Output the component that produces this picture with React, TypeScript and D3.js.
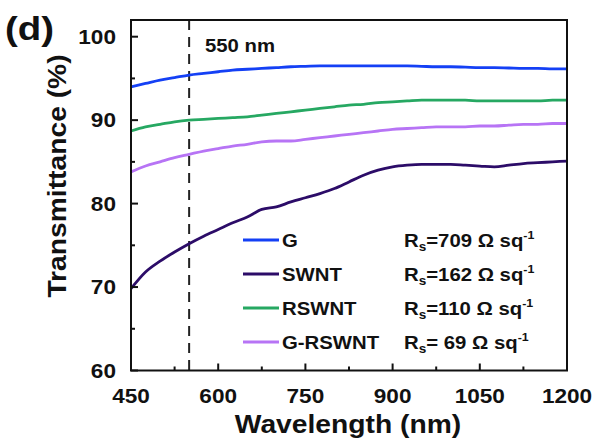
import React from "react";
import * as d3 from "d3";

const wavelengths = [450, 475, 500, 525, 550, 575, 600, 625, 650, 675, 700, 725, 750, 775, 800, 825, 850, 875, 900, 925, 950, 975, 1000, 1025, 1050, 1075, 1100, 1125, 1150, 1175, 1200];
const seriesG = [94.0, 94.4, 94.8, 95.1, 95.4, 95.6, 95.8, 96.0, 96.1, 96.2, 96.3, 96.4, 96.45, 96.5, 96.5, 96.5, 96.5, 96.5, 96.5, 96.5, 96.45, 96.4, 96.4, 96.35, 96.3, 96.3, 96.25, 96.2, 96.2, 96.15, 96.15];
const seriesSWNT = [69.8, 71.8, 73.1, 74.2, 75.2, 76.1, 76.9, 77.7, 78.4, 79.3, 79.6, 80.2, 80.7, 81.2, 81.8, 82.6, 83.4, 84.0, 84.4, 84.6, 84.7, 84.7, 84.7, 84.6, 84.5, 84.4, 84.6, 84.8, 84.9, 85.0, 85.1];
const seriesRSWNT = [88.7, 89.2, 89.5, 89.8, 90.0, 90.1, 90.2, 90.3, 90.4, 90.6, 90.8, 91.0, 91.2, 91.4, 91.6, 91.8, 91.9, 92.1, 92.2, 92.3, 92.4, 92.4, 92.4, 92.4, 92.3, 92.3, 92.3, 92.3, 92.3, 92.4, 92.4];
const seriesGRSWNT = [83.8, 84.5, 85.0, 85.5, 85.9, 86.3, 86.6, 86.9, 87.1, 87.4, 87.5, 87.5, 87.7, 87.9, 88.1, 88.3, 88.5, 88.7, 88.9, 89.0, 89.1, 89.2, 89.2, 89.2, 89.3, 89.3, 89.4, 89.5, 89.5, 89.6, 89.6];

const seriesNames = ["G", "SWNT", "RSWNT", "G-RSWNT"];
const seriesColors = ["#1440f5", "#2c0c68", "#26a862", "#b774f5"];
const resistances = ["709", "162", "110", " 69"];
const xTicks = [450, 600, 750, 900, 1050, 1200];
const xMinor = [525, 675, 825, 975, 1125];
const yTicks = [60, 70, 80, 90, 100];
const yMinor = [65, 75, 85, 95];

const FONT = "'Liberation Sans', Arial, sans-serif";
const SX = 1.13;

function T({ x, y, size, anchor = "start", children, rotate = 0 }: any) {
  return (
    <g transform={`translate(${x},${y}) rotate(${rotate}) scale(${SX},1)`}>
      <text fontFamily={FONT} fontWeight="bold" fontSize={size} textAnchor={anchor} fill="#111">
        {children}
      </text>
    </g>
  );
}

export default function App() {
  const W = 598, H = 444;
  const left = 131, right = 567, top = 20, bottom = 370.5;
  const x = d3.scaleLinear().domain([450, 1200]).range([left, right]);
  const y = d3.scaleLinear().domain([60, 102]).range([bottom, top]);
  const all = [seriesG, seriesSWNT, seriesRSWNT, seriesGRSWNT];
  const line = d3.line<number>().x((_, i) => x(wavelengths[i])).y((d) => y(d)).curve(d3.curveMonotoneX);
  const legendY = [240, 274, 308, 342];

  return (
    <svg width={W} height={H} style={{ position: "absolute", left: 0, top: 0, background: "#fff" }}>
      <rect width={W} height={H} fill="#fff" />
      <line x1={x(550)} x2={x(550)} y1={top} y2={bottom} stroke="#222" strokeWidth={2} strokeDasharray="10,7" />
      {all.map((s, i) => (
        <path key={i} d={line(s) || ""} fill="none" stroke={seriesColors[i]} strokeWidth={2.8} strokeLinejoin="round" />
      ))}
      <rect x={left} y={top} width={right - left} height={bottom - top} fill="none" stroke="#111" strokeWidth={2} />
      {xTicks.map((t) => (
        <line key={"xt" + t} x1={x(t)} x2={x(t)} y1={bottom} y2={bottom - 7} stroke="#111" strokeWidth={2} />
      ))}
      {xMinor.map((t) => (
        <line key={"xm" + t} x1={x(t)} x2={x(t)} y1={bottom} y2={bottom - 4} stroke="#111" strokeWidth={2} />
      ))}
      {yTicks.map((t) => (
        <line key={"yt" + t} x1={left} x2={left + 7} y1={y(t)} y2={y(t)} stroke="#111" strokeWidth={2} />
      ))}
      {yMinor.map((t) => (
        <line key={"ym" + t} x1={left} x2={left + 4} y1={y(t)} y2={y(t)} stroke="#111" strokeWidth={2} />
      ))}
      {xTicks.map((t) => (
        <T key={"xl" + t} x={x(t)} y={403} size={20} anchor="middle">{t}</T>
      ))}
      {yTicks.map((t) => (
        <T key={"yl" + t} x={116} y={y(t) + 7} size={20} anchor="end">{t}</T>
      ))}
      <T x={348} y={433} size={25} anchor="middle">Wavelength (nm)</T>
      <T x={66} y={176} size={25} anchor="middle" rotate={-90}>Transmittance (%)</T>
      <T x={5} y={40} size={34}>(d)</T>
      <T x={205} y={52} size={18}>550 nm</T>
      {seriesNames.map((n, i) => (
        <g key={n}>
          <line x1={243} x2={279} y1={legendY[i]} y2={legendY[i]} stroke={seriesColors[i]} strokeWidth={3} />
          <T x={282} y={legendY[i] + 7} size={18}>{n}</T>
          <g transform={`translate(404,${legendY[i] + 7}) scale(${SX},1)`}>
            <text fontFamily={FONT} fontWeight="bold" fontSize={18} fill="#111" style={{ whiteSpace: "pre" }}>
              R<tspan fontSize={12} dy={4}>s</tspan>
              <tspan dy={-4}>{"=" + resistances[i] + " Ω sq"}</tspan>
              <tspan fontSize={11} dy={-8}>-1</tspan>
            </text>
          </g>
        </g>
      ))}
    </svg>
  );
}
